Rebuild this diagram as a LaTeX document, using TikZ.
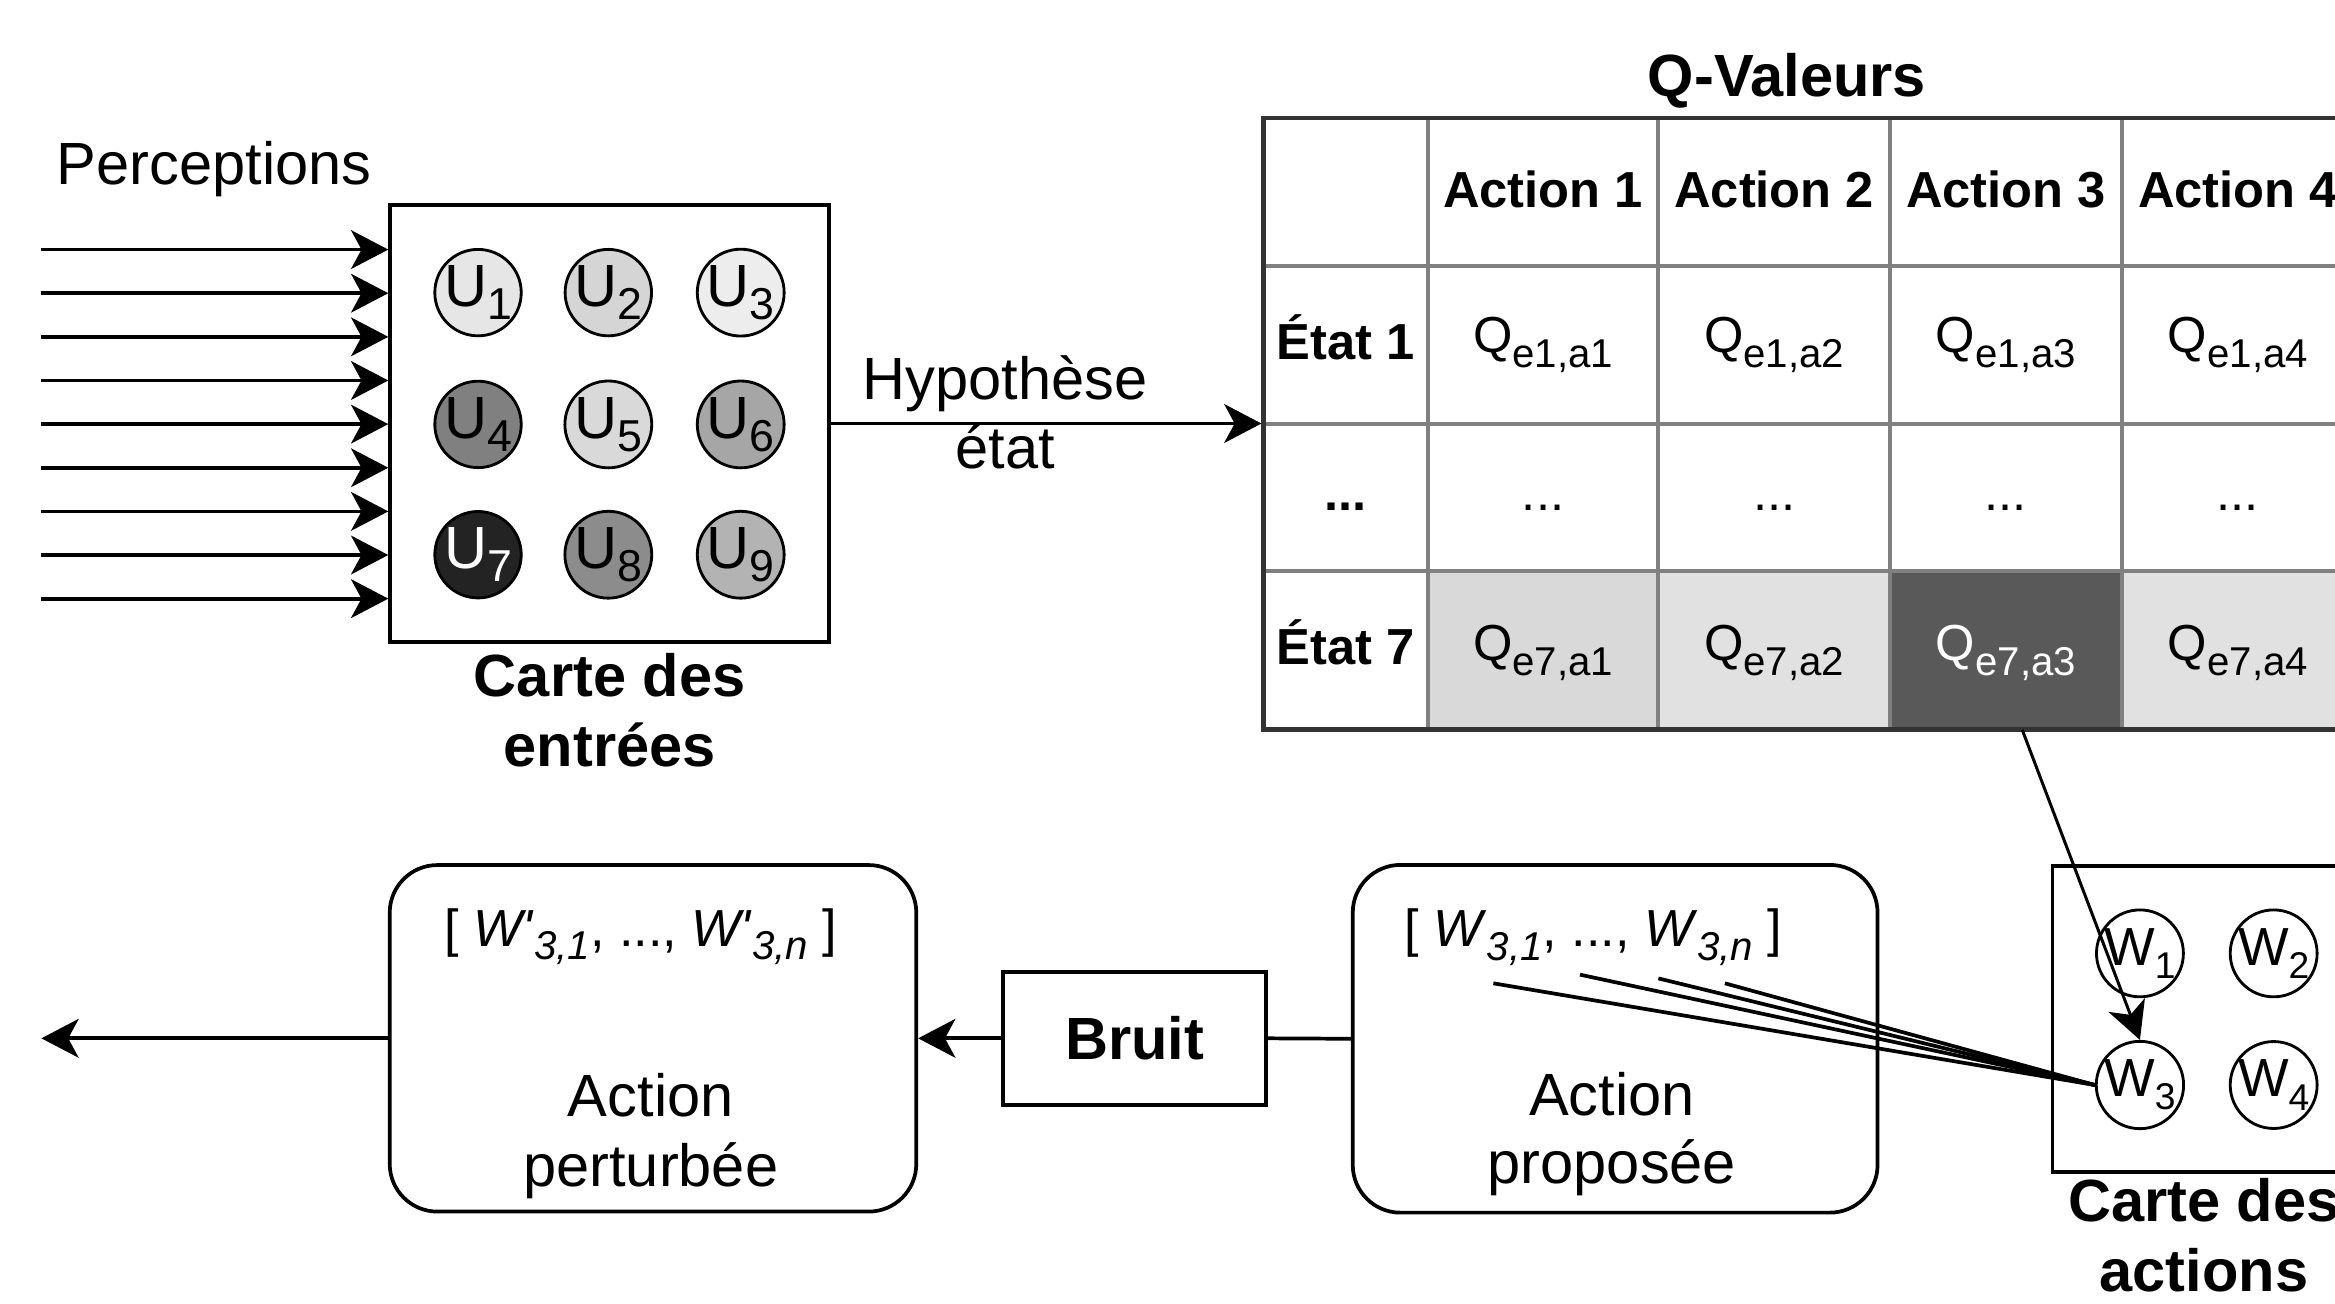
\documentclass[tikz,border=0pt]{standalone}
\usepackage{fontspec}
\setmainfont{Liberation Sans}
\usetikzlibrary{arrows.meta,calc}

\newcommand{\fsz}[1]{\fontsize{#1}{#1}\selectfont}
\newcommand{\lowsub}[3]{\raisebox{-#1pt}{\fontsize{#2}{#2}\selectfont #3}}

\definecolor{cu1}{HTML}{E6E6E6}
\definecolor{cu2}{HTML}{D5D5D5}
\definecolor{cu3}{HTML}{EDEDED}
\definecolor{cu4}{HTML}{808080}
\definecolor{cu5}{HTML}{D9D9D9}
\definecolor{cu6}{HTML}{A6A6A6}
\definecolor{cu7}{HTML}{232323}
\definecolor{cu8}{HTML}{8C8C8C}
\definecolor{cu9}{HTML}{B3B3B3}
\definecolor{cq1}{HTML}{D9D9D9}
\definecolor{cq2}{HTML}{E1E1E2}
\definecolor{cq3}{HTML}{595959}
\definecolor{cq4}{HTML}{E1E1E2}
\definecolor{gridin}{HTML}{808080}
\definecolor{gridout}{HTML}{333333}

\tikzset{
  conn/.style={line width=2.5pt, -{Stealth[length=25pt,width=26pt,inset=7pt]}},
  plain/.style={line width=2.5pt},
  box/.style={draw, line width=2.5pt, fill=white, inner sep=0pt},
  rbox/.style={box, rounded corners=32pt},
  unit/.style={circle, draw, line width=1.9pt, minimum size=58pt, inner sep=0pt, font=\fsz{40}},
  wunit/.style={unit, fill=white, font=\fsz{36}},
  lbl/.style={anchor=base, inner sep=0pt, font=\fsz{40}},
  blbl/.style={anchor=base, inner sep=0pt, font=\bfseries\fsz{40}},
  tlbl/.style={anchor=base, inner sep=0pt, font=\fsz{34}},
  tblbl/.style={anchor=base, inner sep=0pt, font=\bfseries\fsz{34}},
  wlbl/.style={anchor=base, inner sep=0pt, font=\fsz{35}},
  cell/.style={inner sep=0pt, minimum width=155.7pt, minimum height=106.4pt},
  gridl/.style={draw=gridin, line width=2.8pt},
}

\begin{document}
\begin{tikzpicture}[x=1pt,y=-1pt]
\useasboundingbox (0,0) rectangle (1568,875);
\fill[white] (0,0) rectangle (1568,875);
\clip (0,0) rectangle (1568,875);

% ---------- input map ----------
\node[lbl] (perc) at (143.8,124.2) {Perceptions};
\node[box, minimum width=294.8pt, minimum height=293.3pt] (inbox) at (409.4,284.4) {};

\node[unit, fill=cu1] (u1) at (321,196.5) {U\lowsub{8.5}{30}{1}};
\node[unit, fill=cu2] (u2) at (408.5,196.5) {U\lowsub{8.5}{30}{2}};
\node[unit, fill=cu3] (u3) at (497.4,196.5) {U\lowsub{8.5}{30}{3}};
\node[unit, fill=cu4] (u4) at (321,285) {U\lowsub{8.5}{30}{4}};
\node[unit, fill=cu5] (u5) at (408.5,285) {U\lowsub{8.5}{30}{5}};
\node[unit, fill=cu6] (u6) at (497.4,285) {U\lowsub{8.5}{30}{6}};
\node[unit, fill=cu7, text=white] (u7) at (321,372.5) {U\lowsub{8.5}{30}{7}};
\node[unit, fill=cu8] (u8) at (408.5,372.5) {U\lowsub{8.5}{30}{8}};
\node[unit, fill=cu9] (u9) at (497.4,372.5) {U\lowsub{8.5}{30}{9}};

\foreach \i in {1,...,9}{
  \coordinate (p\i) at (27.3,{167.6+29.3*(\i-1)});
  \draw[conn] (p\i) -- (p\i -| inbox.west);
}

\node[blbl] (ce1) at (409.4,468) {Carte des};
\node[blbl] (ce2) at (409.4,515) {entrées};

% ---------- Q table ----------
\node[blbl] (qv) at (1200,65) {Q-Valeurs};

\node[cell, fill=cq1] (c71) at (1036.2,436.8) {};
\node[cell, fill=cq2] (c72) at (1191.4,436.8) {};
\node[cell, fill=cq3] (c73) at (1347.0,436.8) {};
\node[cell, fill=cq4] (c74) at (1502.8,436.8) {};

\foreach \x in {958.8,1113.5,1269.2,1424.9}{
  \draw[gridl] (\x,79.3) -- (\x,490);
}
\foreach \y in {178.8,284.6,383.6}{
  \draw[gridl] (848.7,\y) -- (1580.6,\y);
}
\node[draw=gridout, line width=3.2pt, inner sep=0pt,
      minimum width=731.9pt, minimum height=410.7pt] (qtab) at (1214.65,284.65) {};

\node[tblbl] (h1) at (1036.2,139.3) {Action 1};
\node[tblbl] (h2) at (1191.4,139.3) {Action 2};
\node[tblbl] (h3) at (1347.0,139.3) {Action 3};
\node[tblbl] (h4) at (1502.8,139.3) {Action 4};

\node[tblbl] (s1) at (903.8,241.2) {État 1};
\node[tblbl] (s2) at (903.8,343) {...};
\node[tblbl] (s7) at (903.8,446.5) {État 7};

\node[tlbl] (q11) at (1036.2,236.7) {Q\lowsub{10}{27}{e1,a1}};
\node[tlbl] (q12) at (1191.4,236.7) {Q\lowsub{10}{27}{e1,a2}};
\node[tlbl] (q13) at (1347.0,236.7) {Q\lowsub{10}{27}{e1,a3}};
\node[tlbl] (q14) at (1502.8,236.7) {Q\lowsub{10}{27}{e1,a4}};

\node[tlbl] (d1) at (1036.2,343) {...};
\node[tlbl] (d2) at (1191.4,343) {...};
\node[tlbl] (d3) at (1347.0,343) {...};
\node[tlbl] (d4) at (1502.8,343) {...};

\node[tlbl] (q71) at (1036.2,443.5) {Q\lowsub{10}{27}{e7,a1}};
\node[tlbl] (q72) at (1191.4,443.5) {Q\lowsub{10}{27}{e7,a2}};
\node[tlbl, text=white] (q73) at (1347.0,443.5) {Q\lowsub{10}{27}{e7,a3}};
\node[tlbl] (q74) at (1502.8,443.5) {Q\lowsub{10}{27}{e7,a4}};

% arrow input map -> table
\draw[conn] (inbox.east) -- (inbox.east -| qtab.west);
\node[lbl] (hyp1) at (675,268.6) {Hypothèse};
\node[lbl] (hyp2) at (675,314.5) {état};

% ---------- action map ----------
\node[box, minimum width=203.8pt, minimum height=205.5pt] (abox) at (1480.1,684.05) {};
\node[wunit] (w1) at (1437,640.2) {W\lowsub{9}{25}{1}};
\node[wunit] (w2) at (1526.8,640.2) {W\lowsub{9}{25}{2}};
\node[wunit] (w3) at (1437,728.6) {W\lowsub{9}{25}{3}};
\node[wunit] (w4) at (1526.8,728.6) {W\lowsub{9}{25}{4}};
\node[blbl] (ca1) at (1480,820) {Carte des};
\node[blbl] (ca2) at (1480,867) {actions};

% ---------- bottom chain ----------
\node[rbox, minimum width=352.4pt, minimum height=233.5pt] (prop) at (1084.6,697.55) {};
\node[wlbl] (propw) at (1070,635.7) {[ \textit{W}\lowsub{9}{27}{\textit{3,1}}, ..., \textit{W}\lowsub{9}{27}{\textit{3,n}} ]};
\node[lbl] (prop1) at (1082.4,749.4) {Action};
\node[lbl] (prop2) at (1082.4,795) {proposée};

\node[box, font=\bfseries\fsz{40}, minimum width=176.6pt, minimum height=89.5pt] (bruit) at (762,697.25) {Bruit};

\node[rbox, minimum width=353.6pt, minimum height=232.7pt] (pert) at (438.5,697.25) {};
\node[wlbl] (pertw) at (430.3,635.5) {[ \textit{W\textquotesingle}\lowsub{9}{27}{\textit{3,1}}, ..., \textit{W\textquotesingle}\lowsub{9}{27}{\textit{3,n}} ]};
\node[lbl] (pert1) at (437,750) {Action};
\node[lbl] (pert2) at (437,796.5) {perturbée};

\draw[plain] (prop.west) -- (bruit.east);
\draw[conn] (bruit.west) -- (pert.east);
\coordinate (out) at (27.8,697.25);
\draw[conn] (pert.west) -- (out);

% fan of weights to W3
\coordinate (f1) at (1002.8,660.3);
\coordinate (f2) at (1061,654.5);
\coordinate (f3) at (1113.6,657);
\coordinate (f4) at (1158.3,660.3);
\foreach \i in {1,...,4}{
  \draw[plain] (f\i) -- (w3.west);
}

% selected Q-value -> W3
\draw[line width=2pt, -{Stealth[length=25pt,width=26pt,inset=7pt]}]
  ([xshift=11pt]c73.south) -- (w3.north);
\end{tikzpicture}
\end{document}
